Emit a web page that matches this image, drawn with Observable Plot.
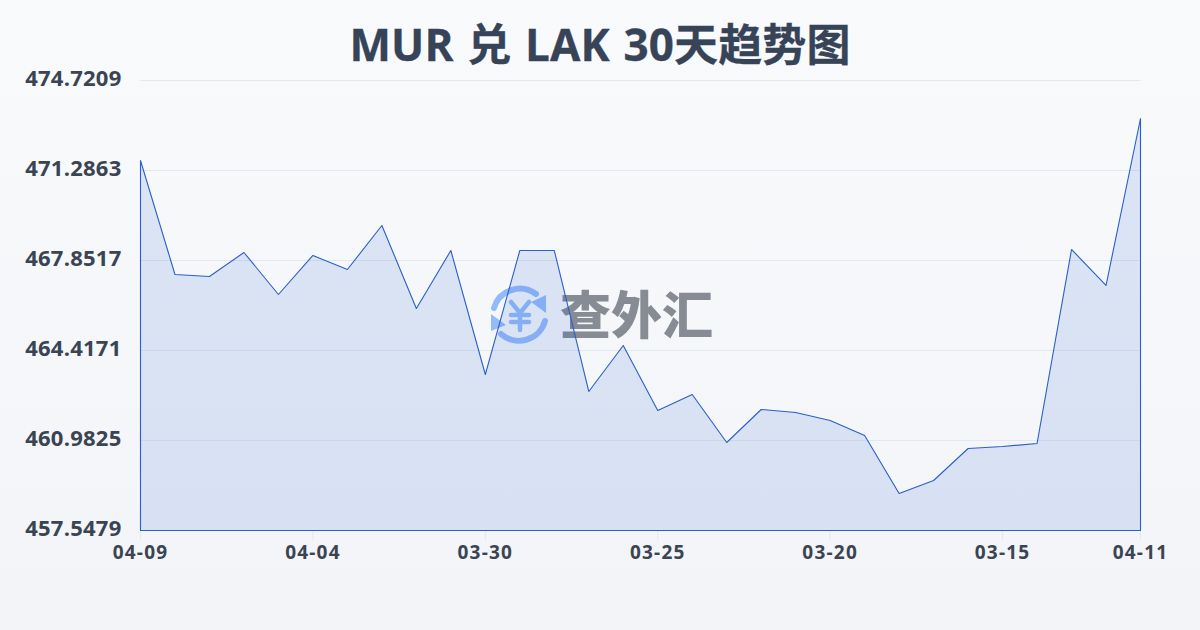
<!DOCTYPE html>
<html><head><meta charset="utf-8">
<script src="https://cdn.jsdelivr.net/npm/d3@7"></script>
<script src="https://cdn.jsdelivr.net/npm/@observablehq/plot@0.6"></script>
<style>
html,body{margin:0;padding:0;width:1200px;height:630px;overflow:hidden}
body{background:linear-gradient(180deg,#f8fafc,#f2f4f7);font-family:"Open Sans","Noto Sans CJK SC",sans-serif;position:relative}
h1{margin:0;height:70px;line-height:88px;text-align:center;font-size:44px;font-weight:700;color:#374357;font-family:"Open Sans","Noto Sans CJK SC",sans-serif;word-spacing:2px;letter-spacing:.15px;-webkit-text-stroke:.3px #374357}
#chart{position:absolute;left:0;top:70px;z-index:2}
#chart svg{background:transparent;display:block}
#chart svg g[aria-label="x-axis tick label"] text{letter-spacing:1.2px}
#chart svg g[aria-label="y-axis tick label"] text{letter-spacing:.25px}
#wm{position:absolute;left:488px;top:284px;z-index:1;width:230px;height:64px}
#wm .t{position:absolute;left:72px;top:-8px;font:900 51px/72px "Noto Sans CJK SC",sans-serif;color:#868b94;white-space:nowrap}
</style></head><body>
<h1>MUR 兑 LAK 30天趋势图</h1>
<div id="wm">
<svg width="64" height="64" viewBox="0 0 64 64" style="position:absolute;left:0;top:0">
<g fill="none" stroke="#93bbfb" stroke-width="6" stroke-linecap="round">
<path d="M6 24 A27 27 0 0 1 48 10"/><path d="M57 37 A27 27 0 0 1 13 50"/>
<path d="M23 18 L32 29 L41 18 M32 29 V46 M23 31 H41 M23 38 H41" stroke-width="4.5"/>
</g>
<path d="M58 11 V29 L43 18Z M3 30 V47 L18 41Z" fill="#93bbfb"/>
</svg>
<div class="t">查外汇</div>
</div>
<div id="chart"></div>
<script>
const dates=["04-09","04-08","04-07","04-06","04-05","04-04","04-03","04-02","04-01","03-31","03-30","03-29","03-28","03-27","03-26","03-25","03-24","03-23","03-22","03-21","03-20","03-19","03-18","03-17","03-16","03-15","03-14","03-13","03-12","04-11"];
const rates=[471.668,467.318,467.241,468.157,466.554,468.043,467.508,469.187,466.020,468.233,463.501,468.233,468.233,462.853,464.608,462.128,462.738,460.906,462.166,462.051,461.746,461.173,458.960,459.456,460.677,460.754,460.868,468.272,466.898,473.271];
const xTicks=["04-09","04-04","03-30","03-25","03-20","03-15","04-11"];
const yTicks=[474.7209,471.2863,467.8517,464.4171,460.9825,457.5479];
const rows=dates.map((d,i)=>({d,v:rates[i]}));
const plot=Plot.plot({
  width:1200,height:560,
  marginTop:10,marginBottom:100,marginLeft:140,marginRight:60,
  style:{background:"transparent",fontFamily:'"Open Sans","Noto Sans CJK SC",sans-serif',overflow:"visible"},
  x:{type:"point",domain:dates,padding:0,round:false,label:null},
  y:{domain:[yTicks[5],yTicks[0]],label:null},
  marks:[
    Plot.ruleY(yTicks,{stroke:"#e2e8f0",strokeWidth:1,dx:0.5}),
    Plot.axisX({ticks:xTicks,tickSize:10,tickPadding:5,stroke:"#e2e8f0",fontSize:19,fontWeight:700,fill:"#3a4453",label:null}),
    Plot.areaY(rows,{x:"d",y:"v",y1:yTicks[5],y2:"v",fill:"#2a5cd2",fillOpacity:0.13,stroke:"#2a5fc8",strokeWidth:1.1,dx:0.5,dy:0.5}),
    Plot.axisY({ticks:yTicks,tickFormat:d=>d.toFixed(4),tickSize:0,tickPadding:19,fontSize:22,fontWeight:700,fill:"#3a4453",label:null,dy:-2})
  ]
});
document.getElementById("chart").appendChild(plot);
</script>
</body></html>
